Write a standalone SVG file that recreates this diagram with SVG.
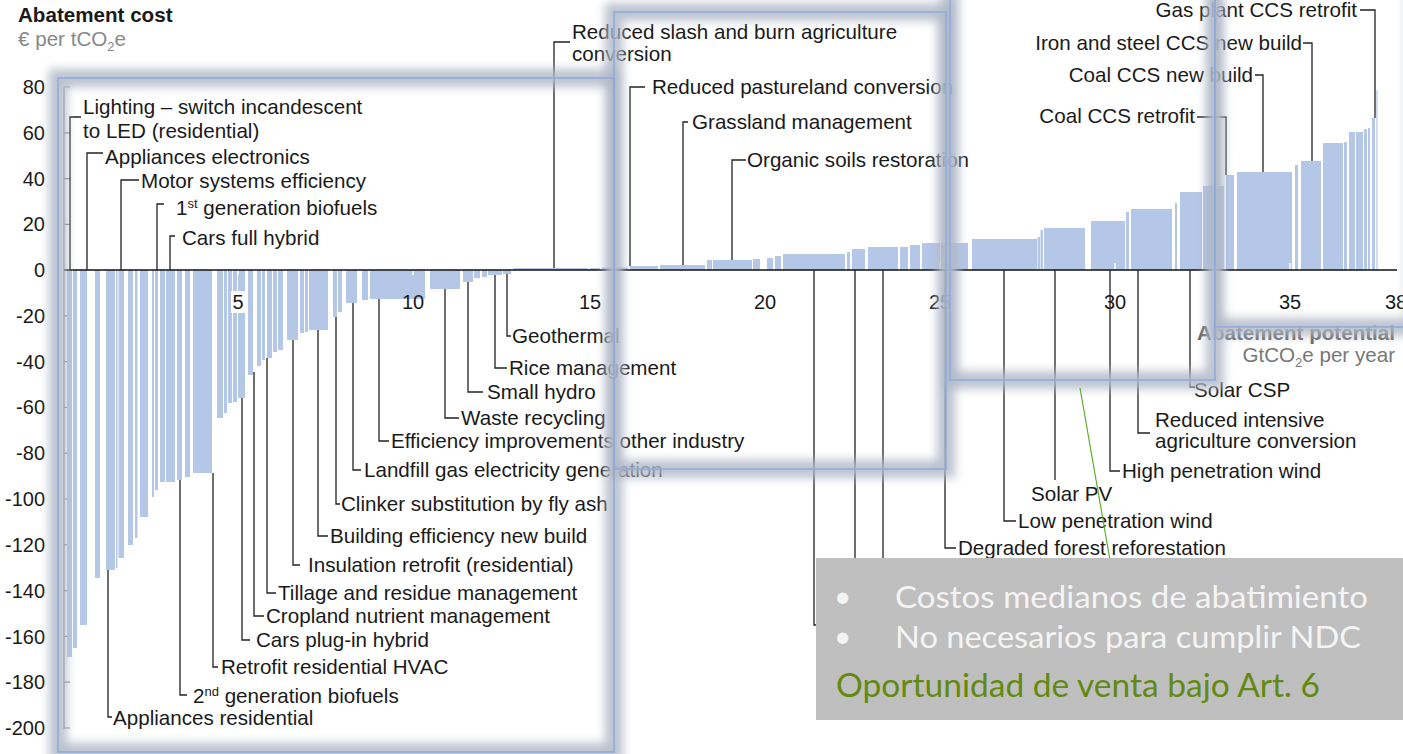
<svg xmlns="http://www.w3.org/2000/svg" width="1403" height="754" viewBox="0 0 1403 754">
<style>
.t{font-family:"Liberation Sans",Arial,sans-serif;font-size:20.6px;fill:#1a1a1a}
.tk{font-family:"Liberation Sans",Arial,sans-serif;font-size:20px;fill:#1a1a1a}
.b{fill:#b4c7e7}
.ld{fill:none;stroke:#222;stroke-width:1.3}
.glow{fill:none;stroke:#b0b8c8;stroke-width:18;opacity:0.85}
.frame{fill:none;stroke:#8faadc;stroke-width:1.5}
.note{font-family:Lato,"Open Sans",sans-serif;fill:#f4f4f4}
</style>
<defs>
<filter id="blur" filterUnits="userSpaceOnUse" x="-60" y="-60" width="1530" height="880"><feGaussianBlur stdDeviation="5"/></filter>
</defs>
<rect width="1403" height="754" fill="#fff"/>

<g id="axis-titles">
<text class="t" x="18" y="22" style="font-weight:bold">Abatement cost</text>
<text class="t" x="18" y="46" style="fill:#888">€ per tCO<tspan font-size="13" dy="5">2</tspan><tspan dy="-5">e</tspan></text>
<text class="t" x="1395" y="340" text-anchor="end" style="font-weight:bold;fill:#666">Abatement potential</text>
<text class="t" x="1395" y="362" text-anchor="end" style="fill:#777">GtCO<tspan font-size="13" dy="5">2</tspan><tspan dy="-5">e per year</tspan></text>
</g>

<g id="y-axis">
<path d="M64,87 V729 M64,87 H70 M64,132.8 H70 M64,178.6 H70 M64,224.4 H70 M64,315.8 H70 M64,361.6 H70 M64,407.4 H70 M64,453.2 H70 M64,499 H70 M64,544.8 H70 M64,590.6 H70 M64,636.4 H70 M64,682.2 H70 M64,728 H70" stroke="#888" stroke-width="1.2" fill="none"/>
<g class="tk" text-anchor="end">
<text x="45" y="94">80</text>
<text x="45" y="140">60</text>
<text x="45" y="186">40</text>
<text x="45" y="231">20</text>
<text x="45" y="277">0</text>
<text x="45" y="323">-20</text>
<text x="45" y="369">-40</text>
<text x="45" y="414">-60</text>
<text x="45" y="460">-80</text>
<text x="45" y="506">-100</text>
<text x="45" y="552">-120</text>
<text x="45" y="598">-140</text>
<text x="45" y="644">-160</text>
<text x="45" y="689">-180</text>
<text x="45" y="735">-200</text>
</g>
</g>

<g id="bars">
<rect class="b" x="67" y="270" width="5" height="387"/>
<rect class="b" x="73" y="270" width="4" height="378"/>
<rect class="b" x="80" y="270" width="7" height="355"/>
<rect class="b" x="95" y="270" width="5" height="308"/>
<rect class="b" x="106" y="270" width="9" height="300"/>
<rect class="b" x="116" y="270" width="1.5" height="298"/>
<rect class="b" x="118.5" y="270" width="5.5" height="288"/>
<rect class="b" x="128" y="270" width="5" height="275"/>
<rect class="b" x="135" y="270" width="2.5" height="268"/>
<rect class="b" x="140" y="270" width="8" height="247"/>
<rect class="b" x="152" y="270" width="2" height="227"/>
<rect class="b" x="155" y="270" width="3" height="220"/>
<rect class="b" x="160" y="270" width="5" height="212"/>
<rect class="b" x="166" y="270" width="9" height="212"/>
<rect class="b" x="177" y="270" width="5" height="210"/>
<rect class="b" x="185" y="270" width="5" height="207"/>
<rect class="b" x="193" y="270" width="19" height="203"/>
<rect class="b" x="217" y="270" width="6" height="148"/>
<rect class="b" x="224" y="270" width="3" height="143"/>
<rect class="b" x="228" y="270" width="4" height="133"/>
<rect class="b" x="233" y="270" width="4" height="132"/>
<rect class="b" x="238" y="270" width="7" height="128"/>
<rect class="b" x="248" y="270" width="5" height="105"/>
<rect class="b" x="257" y="270" width="4" height="96"/>
<rect class="b" x="262" y="270" width="3" height="90"/>
<rect class="b" x="267" y="270" width="5" height="88"/>
<rect class="b" x="273" y="270" width="4" height="82"/>
<rect class="b" x="278" y="270" width="5" height="80"/>
<rect class="b" x="287" y="270" width="11" height="70"/>
<rect class="b" x="300" y="270" width="4" height="63"/>
<rect class="b" x="305" y="270" width="3" height="62"/>
<rect class="b" x="309" y="270" width="19" height="60"/>
<rect class="b" x="333" y="270" width="4" height="47"/>
<rect class="b" x="338" y="270" width="4" height="42"/>
<rect class="b" x="346" y="270" width="11" height="33"/>
<rect class="b" x="362" y="270" width="6" height="30"/>
<rect class="b" x="370" y="270" width="55" height="29"/>
<rect class="b" x="430" y="270" width="30" height="19"/>
<rect class="b" x="463" y="270" width="10" height="12"/>
<rect class="b" x="474" y="270" width="6" height="8"/>
<rect class="b" x="482" y="270" width="5" height="7"/>
<rect class="b" x="488" y="270" width="14" height="5"/>
<rect class="b" x="503" y="270" width="8" height="4"/>
<rect class="b" x="513" y="268" width="75" height="2"/>
<rect class="b" x="590" y="268" width="10" height="2"/>
<rect class="b" x="602" y="267.5" width="26" height="2.5"/>
<rect class="b" x="630" y="266" width="28" height="4"/>
<rect class="b" x="660" y="265" width="45" height="5"/>
<rect class="b" x="707" y="260" width="5" height="10"/>
<rect class="b" x="713" y="260" width="39" height="10"/>
<rect class="b" x="753" y="259" width="7" height="11"/>
<rect class="b" x="767" y="258" width="6" height="12"/>
<rect class="b" x="775" y="256" width="6" height="14"/>
<rect class="b" x="783" y="254" width="62" height="16"/>
<rect class="b" x="847" y="252" width="3" height="18"/>
<rect class="b" x="852" y="249" width="13" height="21"/>
<rect class="b" x="868" y="247" width="30" height="23"/>
<rect class="b" x="900" y="247" width="8" height="23"/>
<rect class="b" x="910" y="245" width="10" height="25"/>
<rect class="b" x="922" y="243" width="18" height="27"/>
<rect class="b" x="941" y="243" width="27" height="27"/>
<rect class="b" x="972" y="239" width="65" height="31"/>
<rect class="b" x="1037.5" y="237" width="2.5" height="33"/>
<rect class="b" x="1040.5" y="230" width="2.5" height="40"/>
<rect class="b" x="1044" y="228" width="41" height="42"/>
<rect class="b" x="1091" y="221" width="34" height="49"/>
<rect class="b" x="1126" y="212" width="3" height="58"/>
<rect class="b" x="1131" y="209" width="41" height="61"/>
<rect class="b" x="1175" y="203" width="2" height="67"/>
<rect class="b" x="1180" y="192" width="22" height="78"/>
<rect class="b" x="1203" y="186" width="21" height="84"/>
<rect class="b" x="1226" y="175" width="8" height="95"/>
<rect class="b" x="1237" y="172" width="55" height="98"/>
<rect class="b" x="1295" y="165" width="3" height="105"/>
<rect class="b" x="1301" y="161" width="20" height="109"/>
<rect class="b" x="1323" y="143" width="20" height="127"/>
<rect class="b" x="1344" y="142" width="3" height="128"/>
<rect class="b" x="1349" y="132" width="6" height="138"/>
<rect class="b" x="1356" y="132" width="7" height="138"/>
<rect class="b" x="1364" y="129" width="3" height="141"/>
<rect class="b" x="1368" y="128" width="2" height="142"/>
<rect class="b" x="1372" y="118" width="3" height="152"/>
<rect x="1376" y="90" width="2" height="180" fill="#d3def2"/>
</g>

<g id="x-axis">
<path d="M64,270 H1397" stroke="#111" stroke-width="1.6"/>
<path d="M238,271 V275 M413,271 V275 M590,271 V275 M765,269 V263 M940,269 V263 M1115,269 V263 M1290,269 V263" stroke="#fff" stroke-width="1.5"/>
<rect x="231" y="291" width="15" height="22" fill="#fff"/>
<g class="tk" text-anchor="middle">
<text x="238" y="309">5</text>
<text x="413" y="309">10</text>
<text x="590" y="309">15</text>
<text x="765" y="309">20</text>
<text x="940" y="309">25</text>
<text x="1115" y="309">30</text>
<text x="1290" y="309">35</text>
<text x="1396" y="309">38</text>
</g>
</g>

<g id="connectors">
<path class="ld" d="M70,270 V117 H81"/>
<path class="ld" d="M87,270 V153 H103"/>
<path class="ld" d="M121,270 V180 H139"/>
<path class="ld" d="M157,270 V204 H164"/>
<path class="ld" d="M170,270 V236 H175"/>
<path class="ld" d="M108,570 V717 H112"/>
<path class="ld" d="M180,480 V695 H187"/>
<path class="ld" d="M213,473 V667 H218"/>
<path class="ld" d="M242,398 V640 H250"/>
<path class="ld" d="M254,372 V616 H264"/>
<path class="ld" d="M267,358 V593 H276"/>
<path class="ld" d="M293,340 V565 H300"/>
<path class="ld" d="M318,330 V536 H328"/>
<path class="ld" d="M336,317 V504 H340"/>
<path class="ld" d="M353,303 V470 H361"/>
<path class="ld" d="M379,299 V441 H389"/>
<path class="ld" d="M445,289 V418 H459"/>
<path class="ld" d="M468,282 V392 H483"/>
<path class="ld" d="M495,275 V368 H507"/>
<path class="ld" d="M507,274 V336 H511"/>
<path class="ld" d="M554,268 V42 H570"/>
<path class="ld" d="M630,266 V87 H645"/>
<path class="ld" d="M683,265 V122 H688"/>
<path class="ld" d="M732,260 V160 H746"/>
<path class="ld" d="M1226,175 V117 H1197"/>
<path class="ld" d="M1263,172 V75 H1255"/>
<path class="ld" d="M1312,161 V43 H1303"/>
<path class="ld" d="M1375,118 V10 H1360"/>
<path class="ld" d="M814,270 V625 H822"/>
<path class="ld" d="M855,270 V600 H862"/>
<path class="ld" d="M883,270 V580 H890"/>
<path class="ld" d="M945,270 V548 H956"/>
<path class="ld" d="M1004,270 V521 H1016"/>
<path class="ld" d="M1055,270 V480"/>
<path class="ld" d="M1110,270 V471 H1120"/>
<path class="ld" d="M1138,270 V433 H1150"/>
<path class="ld" d="M1190,270 V387 H1195"/>
</g>

<g id="labels" class="t">
<text x="83" y="114">Lighting – switch incandescent</text>
<text x="83" y="138">to LED (residential)</text>
<text x="105" y="164">Appliances electronics</text>
<text x="141" y="188">Motor systems efficiency</text>
<text x="176" y="215">1<tspan font-size="13" dy="-7">st</tspan><tspan dy="7"> generation biofuels</tspan></text>
<text x="182" y="245">Cars full hybrid</text>
<text x="512" y="343">Geothermal</text>
<text x="509" y="375">Rice management</text>
<text x="487" y="399">Small hydro</text>
<text x="461" y="425">Waste recycling</text>
<text x="391" y="448">Efficiency improvements other industry</text>
<text x="364" y="477">Landfill gas electricity generation</text>
<text x="341" y="511">Clinker substitution by fly ash</text>
<text x="330" y="543">Building efficiency new build</text>
<text x="308" y="572">Insulation retrofit (residential)</text>
<text x="278" y="600">Tillage and residue management</text>
<text x="266" y="623">Cropland nutrient management</text>
<text x="256" y="647">Cars plug-in hybrid</text>
<text x="221" y="674">Retrofit residential HVAC</text>
<text x="193" y="703">2<tspan font-size="13" dy="-7">nd</tspan><tspan dy="7"> generation biofuels</tspan></text>
<text x="113" y="725">Appliances residential</text>
<text x="572" y="39">Reduced slash and burn agriculture</text>
<text x="572" y="61">conversion</text>
<text x="652" y="94">Reduced pastureland conversion</text>
<text x="692" y="129">Grassland management</text>
<text x="747" y="167">Organic soils restoration</text>
<text x="1357" y="17" text-anchor="end">Gas plant CCS retrofit</text>
<text x="1302" y="50" text-anchor="end">Iron and steel CCS new build</text>
<text x="1253" y="82" text-anchor="end">Coal CCS new build</text>
<text x="1195" y="123" text-anchor="end">Coal CCS retrofit</text>
<text x="1194" y="397">Solar CSP</text>
<text x="1155" y="427">Reduced intensive</text>
<text x="1155" y="448">agriculture conversion</text>
<text x="1122" y="478">High penetration wind</text>
<text x="1031" y="501">Solar PV</text>
<text x="1018" y="528">Low penetration wind</text>
<text x="958" y="555">Degraded forest reforestation</text>
</g>

<g id="highlight-frames">
<g filter="url(#blur)">
<rect class="glow" x="58" y="78" width="556" height="674"/>
<rect class="glow" x="614" y="12" width="332" height="457"/>
<rect class="glow" x="950" y="-20" width="265" height="400"/>
<rect class="glow" x="1215" y="-20" width="200" height="347"/>
</g>
<rect class="frame" x="58" y="78" width="556" height="674"/>
<rect class="frame" x="614" y="12" width="332" height="457"/>
<rect class="frame" x="950" y="-20" width="265" height="400"/>
<rect class="frame" x="1215" y="-20" width="200" height="347"/>
</g>

<line id="pointer" x1="1080" y1="388" x2="1110" y2="560" stroke="#5fae2e" stroke-width="1.2"/>

<g id="note">
<rect x="816" y="558" width="587" height="162" fill="#bfbfbf"/>
<text class="note" x="834" y="607" font-size="30">•</text>
<text class="note" x="834" y="647" font-size="30">•</text>
<text class="note" x="895" y="608" font-size="31" textLength="473" lengthAdjust="spacingAndGlyphs">Costos medianos de abatimiento</text>
<text class="note" x="895" y="648" font-size="31" textLength="466" lengthAdjust="spacingAndGlyphs">No necesarios para cumplir NDC</text>
<text class="note" x="836" y="697" font-size="33" textLength="484" lengthAdjust="spacingAndGlyphs" style="fill:#628a10">Oportunidad de venta bajo Art. 6</text>
</g>
</svg>
